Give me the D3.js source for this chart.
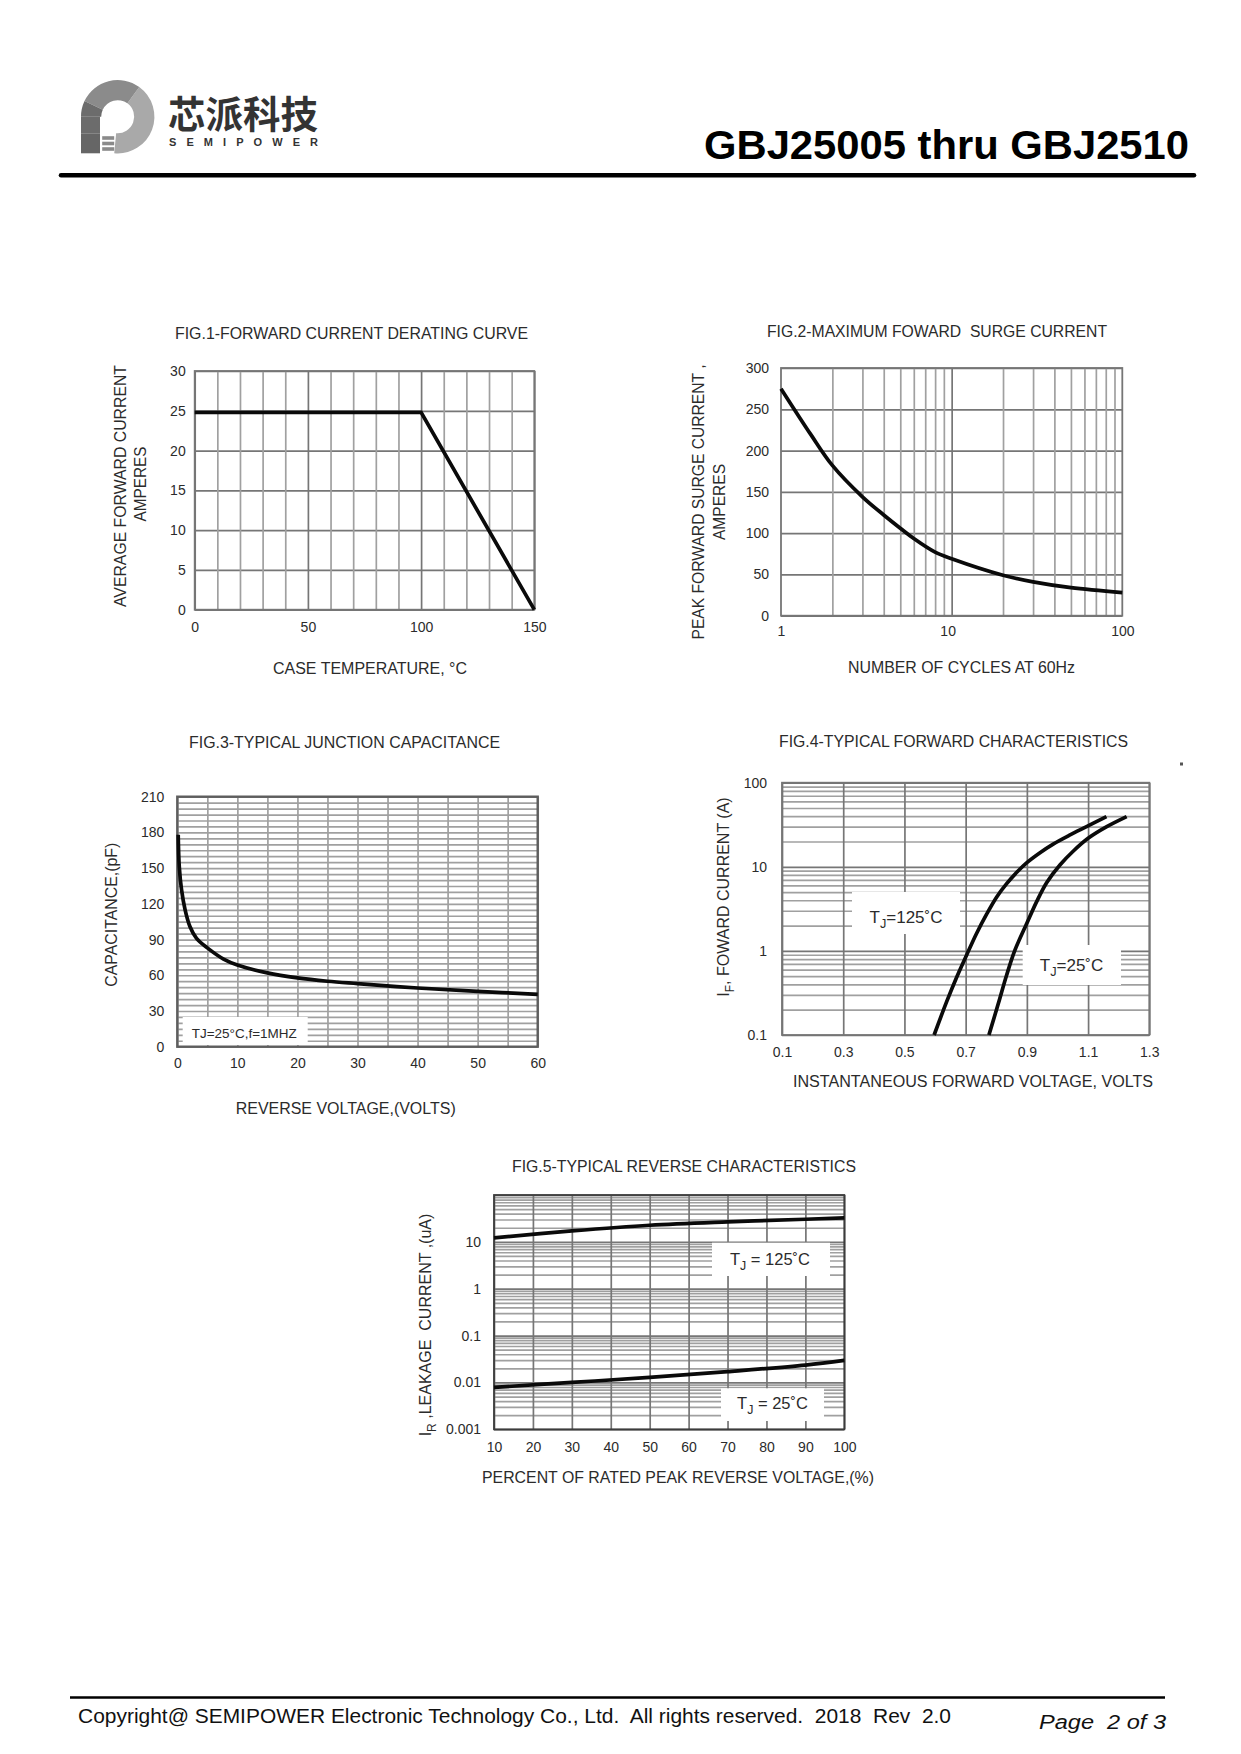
<!DOCTYPE html>
<html>
<head>
    <meta charset="utf-8">
    <style>
        body { margin: 0; padding: 0; background: #fff; }
        svg { display: block; }
        text { font-family: "Liberation Sans", Arial, sans-serif; fill: #2b2b2b; white-space: pre; }
        .domain { display: none; }
    </style>
    <script src="https://d3js.org/d3.v7.min.js"></script>
</head>
<body>
    <div id="page"></div>
    <script>
        // fig 1 - derating curve
        var fig1Temp = [0, 100, 150];
        var fig1Current = [24.8, 24.8, 0];
        var fig1XTicks = [0, 50, 100, 150];
        var fig1XGrid = [10, 20, 30, 40, 60, 70, 80, 90, 110, 120, 130, 140];
        var fig1YTicks = [0, 5, 10, 15, 20, 25, 30];

        // fig 2 - surge current
        var fig2Cycles = [1, 1.5, 2, 3, 4, 5, 6, 8, 10, 20, 30, 50, 100];
        var fig2Current = [275, 219, 182, 144, 122, 106, 93.5, 77, 69, 49, 41, 34, 28];
        var fig2XTicks = [1, 10, 100];
        var fig2YTicks = [0, 50, 100, 150, 200, 250, 300];

        // fig 3 - capacitance
        var fig3Volts = [0.15, 0.33, 0.7, 1.3, 2.1, 3.2, 5, 7.7, 10, 15, 20, 25, 30, 40, 50, 60];
        var fig3Cap = [178, 151, 132, 115, 101, 91, 83, 73.6, 68.6, 62, 57.8, 55, 53, 49.3, 46.5, 44];
        var fig3XTicks = [0, 10, 20, 30, 40, 50, 60];
        var fig3XGrid = [5, 15, 25, 35, 45, 55];
        var fig3YTicks = [0, 30, 60, 90, 120, 150, 180, 210];

        // fig 4 - forward characteristics
        var fig4Volts125 = [0.597, 0.638, 0.671, 0.703, 0.736, 0.769, 0.801, 0.834, 0.867, 0.9, 0.943, 0.986, 1.041, 1.095, 1.16];
        var fig4Amps125 = [0.1, 0.249, 0.49, 0.89, 1.62, 2.75, 4.35, 6.3, 8.6, 11.2, 14.7, 18.6, 23.9, 30, 39.5];
        var fig4Volts25 = [0.776, 0.807, 0.834, 0.861, 0.9, 0.932, 0.965, 1.008, 1.052, 1.1, 1.161, 1.226];
        var fig4Amps25 = [0.1, 0.238, 0.517, 1.02, 2.13, 3.85, 6.5, 10.5, 15.4, 21.8, 30, 39.5];
        var fig4XTicks = [0.1, 0.3, 0.5, 0.7, 0.9, 1.1, 1.3];
        var fig4YTicks = [0.1, 1, 10, 100];

        // fig 5 - reverse characteristics
        var fig5Percent = [10, 30, 50, 70, 90, 100];
        var fig5Leak125 = [12.2, 17.1, 22.6, 26.7, 30.4, 32.5];
        var fig5Leak25 = [0.00785, 0.01, 0.0128, 0.017, 0.0235, 0.0296];
        var fig5XTicks = [10, 20, 30, 40, 50, 60, 70, 80, 90, 100];
        var fig5YTicks = [0.001, 0.01, 0.1, 1, 10];
        var fig5YGridMajor = [0.001, 0.01, 0.1, 1, 10, 100];

        var minorGrey = "#a0a0a0", majorGrey = "#767676";

        var svg = d3.select("#page").append("svg")
            .attr("width", 1241)
            .attr("height", 1754);

        // x, y is the centre of the text. parts may be a string or [text, "sub"] pairs
        function addText(parent, parts, x, y, o) {
            o = o || {};
            var size = o.size || 16;
            var t = parent.append("text")
                .attr("transform", "translate(" + x + "," + y + ")" + (o.rotate ? " rotate(-90)" : ""))
                .attr("y", size * 0.36)
                .attr("text-anchor", "middle")
                .style("font-size", size + "px");
            if (o.family) t.style("font-family", o.family);
            if (o.bold) t.style("font-weight", "bold");
            if (o.italic) t.style("font-style", "italic");
            if (o.fill) t.style("fill", o.fill);
            if (o.len) t.attr("textLength", o.len).attr("lengthAdjust", o.adjust || "spacingAndGlyphs");
            if (typeof parts === "string") {
                t.text(parts);
            } else {
                var down = false;
                parts.forEach(function(p) {
                    var isSub = p[1] === "sub";
                    var span = t.append("tspan").text(p[0]);
                    if (isSub) {
                        span.attr("dy", size * 0.3).style("font-size", (size * 0.75) + "px");
                        down = true;
                    } else if (down) {
                        span.attr("dy", -size * 0.3);
                        down = false;
                    }
                });
            }
            return t;
        }

        function minorLog(decades) {
            var out = [];
            decades.forEach(function(d) {
                [2, 3, 4, 5, 6, 7, 8, 9].forEach(function(m) { out.push(d * m); });
            });
            return out;
        }

        function drawChart(c) {
            var w = c.right - c.left, h = c.bottom - c.top;
            var x = (c.xLog ? d3.scaleLog() : d3.scaleLinear()).domain(c.xDomain).range([0, w]);
            var y = (c.yLog ? d3.scaleLog() : d3.scaleLinear()).domain(c.yDomain).range([h, 0]);
            var g = svg.append("g").attr("transform", "translate(" + c.left + "," + c.top + ")");

            function vGrid(values, colour) {
                var a = g.append("g").attr("transform", "translate(0," + h + ")")
                    .call(d3.axisBottom(x).tickValues(values).tickSize(-h).tickFormat(""));
                a.selectAll("line").attr("stroke", colour).attr("stroke-width", 1.7);
            }
            function hGrid(values, colour) {
                var a = g.append("g")
                    .call(d3.axisLeft(y).tickValues(values).tickSize(-w).tickFormat(""));
                a.selectAll("line").attr("stroke", colour).attr("stroke-width", 1.7);
            }
            hGrid(c.yGridMinor || [], minorGrey);
            hGrid(c.yGridMajor || [], c.yMajorColour || majorGrey);
            vGrid(c.xGridMinor || [], minorGrey);
            vGrid(c.xGridMajor || [], c.xMajorColour || majorGrey);

            (c.boxes || []).forEach(function(b) {
                g.append("rect")
                    .attr("x", b[0] - c.left).attr("y", b[1] - c.top)
                    .attr("width", b[2] - b[0]).attr("height", b[3] - b[1])
                    .attr("fill", "#fff");
            });

            g.append("rect").attr("width", w).attr("height", h)
                .attr("fill", "none")
                .attr("stroke", c.frame || majorGrey)
                .attr("stroke-width", c.frameWidth || 1.8);

            var line = d3.line()
                .x(function(d) { return x(d[0]); })
                .y(function(d) { return y(d[1]); })
                .curve(c.curve || d3.curveCatmullRom.alpha(0.5));
            c.series.forEach(function(s) {
                g.append("path")
                    .attr("d", line(d3.zip(s[0], s[1])))
                    .attr("fill", "none")
                    .attr("stroke", "#0a0a0a")
                    .attr("stroke-width", 3.7);
            });

            var xAxis = g.append("g").attr("transform", "translate(0," + h + ")")
                .call(d3.axisBottom(x).tickValues(c.xTicks).tickSize(0).tickPadding(c.xPad).tickFormat(String));
            var yAxis = g.append("g")
                .call(d3.axisLeft(y).tickValues(c.yTicks).tickSize(0).tickPadding(c.yPad).tickFormat(String));
            xAxis.selectAll("text").style("font-size", "14px").style("fill", "#2b2b2b");
            yAxis.selectAll("text").style("font-size", "14px").style("fill", "#2b2b2b");
            return xAxis;
        }

        // header
        var logoArc = d3.arc().innerRadius(16.5).outerRadius(36.7);
        var logo = svg.append("g").attr("transform", "translate(117.7,116.7)");
        logo.append("path").attr("fill", "#a9a9a9").attr("d", logoArc({ startAngle: 0.2 * Math.PI, endAngle: 1.03 * Math.PI }));
        logo.append("path").attr("fill", "#8b8b8b").attr("d", logoArc({ startAngle: -0.36 * Math.PI, endAngle: 0.2 * Math.PI }));
        logo.append("path").attr("fill", "#6c6c6c").attr("d", logoArc({ startAngle: -0.5 * Math.PI, endAngle: -0.36 * Math.PI }));
        logo.append("path").attr("fill", "#6c6c6c").attr("d", "M-36.7,0L-17.7,0L-17.7,16.6L-36.7,16.6Z");
        logo.append("rect").attr("x", -36.7).attr("y", 16.6).attr("width", 19).attr("height", 20).attr("fill", "#666");
        [19.5, 25, 30.5].forEach(function(yy) {
            logo.append("rect").attr("x", -15.5).attr("y", yy).attr("width", 12).attr("height", 3.6).attr("fill", "#8a8a8a");
        });
        addText(svg, "芯派科技", 243, 114, { size: 38, family: "'Noto Sans CJK SC'", bold: true, len: 150, fill: "#333" });
        addText(svg, "SEMIPOWER", 243.5, 142, { size: 11, bold: true, len: 149, adjust: "spacing", fill: "#333" });
        addText(svg, "GBJ25005 thru GBJ2510", 946.5, 144, { size: 41, bold: true, len: 485, fill: "#000" });
        svg.append("line").attr("x1", 61).attr("x2", 1194).attr("y1", 175.3).attr("y2", 175.3)
            .attr("stroke", "#000").attr("stroke-width", 4.5).attr("stroke-linecap", "round");

        // fig 1
        drawChart({
            left: 194.7, right: 534.3, top: 371, bottom: 609.7,
            xDomain: [0, 150], yDomain: [0, 30],
            xGridMinor: fig1XGrid, xGridMajor: fig1XTicks, yGridMajor: fig1YTicks,
            xTicks: fig1XTicks, yTicks: fig1YTicks, xPad: 12, yPad: 9,
            curve: d3.curveLinear,
            series: [[fig1Temp, fig1Current]]
        });
        addText(svg, "FIG.1-FORWARD CURRENT DERATING CURVE", 351.5, 333, { len: 353 });
        addText(svg, "AVERAGE FORWARD CURRENT", 120, 486, { rotate: true, len: 242 });
        addText(svg, "AMPERES", 140, 484, { rotate: true, len: 75 });
        addText(svg, "CASE TEMPERATURE, °C", 370, 668, { len: 194 });

        // fig 2
        var fig2Axis = drawChart({
            left: 781, right: 1122.3, top: 368, bottom: 615.7,
            xLog: true, xDomain: [1, 100], yDomain: [0, 300],
            xGridMinor: minorLog([1, 10]), xGridMajor: [10], yGridMajor: fig2YTicks,
            xTicks: fig2XTicks, yTicks: fig2YTicks, xPad: 10, yPad: 12,
            series: [[fig2Cycles, fig2Current]]
        });
        // the 10 sits a little left of its grid line in the original
        fig2Axis.selectAll("text").filter(function(d) { return d === 10; }).attr("dx", -4);
        addText(svg, "FIG.2-MAXIMUM FOWARD  SURGE CURRENT", 937, 331, { len: 340 });
        addText(svg, "PEAK FORWARD SURGE CURRENT ,", 698, 502, { rotate: true, len: 275 });
        addText(svg, "AMPERES", 719, 502, { rotate: true, len: 76 });
        addText(svg, "NUMBER OF CYCLES AT 60Hz", 961.5, 667, { len: 227 });

        // fig 3
        drawChart({
            left: 177.3, right: 537.7, top: 796.7, bottom: 1046.7,
            xDomain: [0, 60], yDomain: [0, 210],
            xGridMinor: fig3XGrid, xGridMajor: fig3XTicks, xMajorColour: minorGrey,
            yGridMinor: d3.range(0, 215, 5), yMajorColour: minorGrey,
            frame: "#5e5e5e", frameWidth: 2.4,
            boxes: [[182.7, 1017, 307.7, 1045]],
            xTicks: fig3XTicks, yTicks: fig3YTicks, xPad: 11, yPad: 13,
            series: [[fig3Volts, fig3Cap]]
        });
        addText(svg, "TJ=25°C,f=1MHZ", 244.2, 1033, { size: 13, len: 105 });
        addText(svg, "FIG.3-TYPICAL JUNCTION CAPACITANCE", 344.5, 742, { len: 311 });
        addText(svg, "CAPACITANCE,(pF)", 111.7, 914.7, { rotate: true, len: 144 });
        addText(svg, "REVERSE VOLTAGE,(VOLTS)", 345.7, 1108, { len: 220 });

        // fig 4
        drawChart({
            left: 782, right: 1149.3, top: 782.7, bottom: 1035,
            xDomain: [0.1, 1.3], yLog: true, yDomain: [0.1, 100],
            xGridMajor: fig4XTicks, yGridMajor: fig4YTicks, yGridMinor: minorLog([0.1, 1, 10]),
            boxes: [[852, 892, 960, 934], [1022.7, 945, 1121, 985]],
            xTicks: fig4XTicks, yTicks: fig4YTicks, xPad: 12, yPad: 15,
            series: [[fig4Volts125, fig4Amps125], [fig4Volts25, fig4Amps25]]
        });
        addText(svg, [["T"], ["J", "sub"], ["=125˚C"]], 906, 917, { size: 17 });
        addText(svg, [["T"], ["J", "sub"], ["=25˚C"]], 1071.5, 965, { size: 17 });
        addText(svg, "FIG.4-TYPICAL FORWARD CHARACTERISTICS", 953.5, 741, { len: 349 });
        addText(svg, [["I"], ["F", "sub"], [", FOWARD CURRENT (A)"]], 723, 897, { rotate: true, size: 16 });
        addText(svg, "INSTANTANEOUS FORWARD VOLTAGE, VOLTS", 973, 1081, { len: 360 });
        svg.append("rect").attr("x", 1180).attr("y", 762.5).attr("width", 3).attr("height", 3).attr("fill", "#555");

        // fig 5
        drawChart({
            left: 494, right: 844.3, top: 1195, bottom: 1429.3,
            xDomain: [10, 100], yLog: true, yDomain: [0.001, 100],
            xGridMajor: fig5XTicks, yGridMajor: fig5YGridMajor,
            yGridMinor: minorLog([0.001, 0.01, 0.1, 1, 10]),
            frame: "#3c3c3c", frameWidth: 1.8,
            boxes: [[712, 1242.7, 830, 1276], [721, 1388.3, 824, 1421]],
            xTicks: fig5XTicks, yTicks: fig5YTicks, xPad: 13, yPad: 13,
            series: [[fig5Percent, fig5Leak125], [fig5Percent, fig5Leak25]]
        });
        addText(svg, [["T"], ["J", "sub"], [" = 125˚C"]], 770, 1259, { size: 16.5 });
        addText(svg, [["T"], ["J", "sub"], [" = 25˚C"]], 772.5, 1403, { size: 16.5 });
        addText(svg, "FIG.5-TYPICAL REVERSE CHARACTERISTICS", 684, 1166, { len: 344 });
        addText(svg, [["I"], ["R", "sub"], [" ,LEAKAGE  CURRENT ,(uA)"]], 425, 1325, { rotate: true, size: 16 });
        addText(svg, "PERCENT OF RATED PEAK REVERSE VOLTAGE,(%)", 678, 1477, { len: 392 });

        // footer
        svg.append("line").attr("x1", 70).attr("x2", 1165).attr("y1", 1697.5).attr("y2", 1697.5)
            .attr("stroke", "#000").attr("stroke-width", 2.6);
        addText(svg, "Copyright@ SEMIPOWER Electronic Technology Co., Ltd.  All rights reserved.  2018  Rev  2.0", 514.5, 1716, { size: 20, len: 873, fill: "#111" });
        addText(svg, "Page  2 of 3", 1102.5, 1722, { size: 20, italic: true, len: 127, fill: "#111" });
    </script>
</body>
</html>
